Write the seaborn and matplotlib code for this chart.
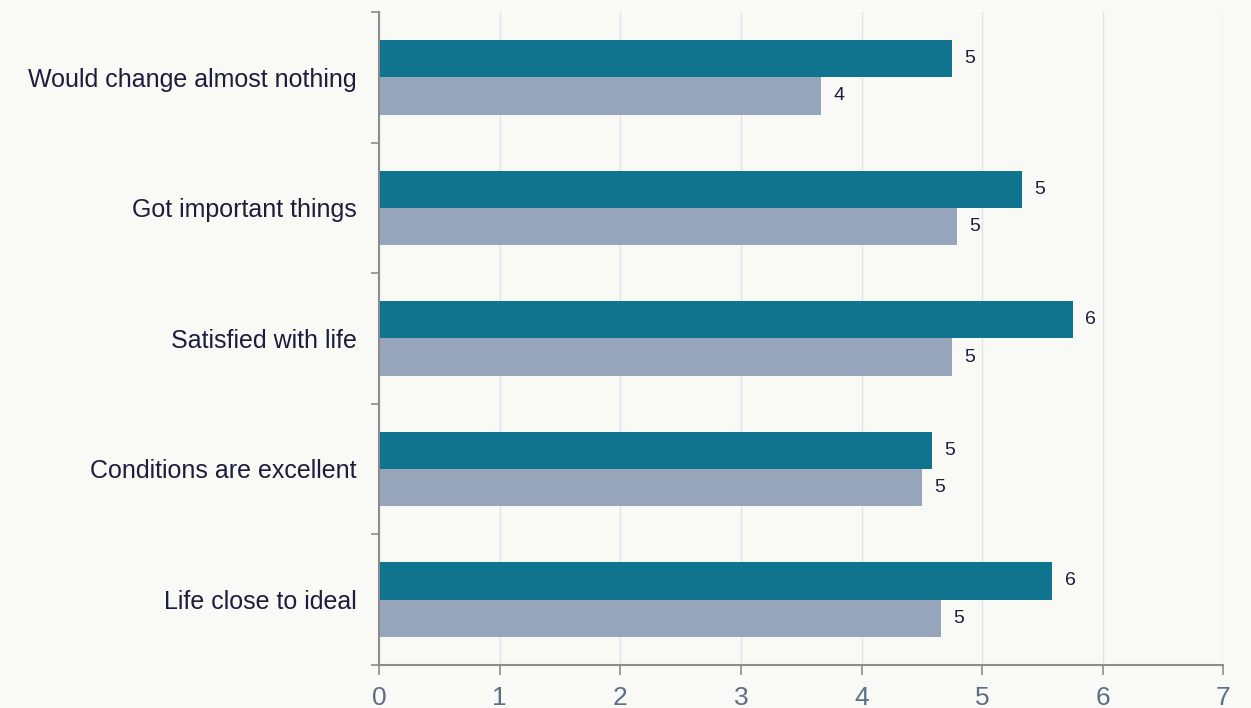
import numpy as np
import pandas as pd
import seaborn as sns
import matplotlib.pyplot as plt
from matplotlib.ticker import FixedLocator

categories = [
    "Would change almost nothing",
    "Got important things",
    "Satisfied with life",
    "Conditions are excellent",
    "Life close to ideal",
]
series_names = ["Series 1", "Series 2"]
series_1 = [4.75, 5.33, 5.75, 4.58, 5.58]
series_2 = [3.66, 4.79, 4.75, 4.50, 4.66]
x_ticks = [0, 1, 2, 3, 4, 5, 6, 7]

colors = ["#11748f", "#96a5ba"]
bg = "#f9f9f5"
axis_grey = "#8c8c8c"

data = pd.DataFrame(
    {
        "category": categories * 2,
        "series": [series_names[0]] * len(categories) + [series_names[1]] * len(categories),
        "value": series_1 + series_2,
    }
)

sns.set_style("white")
plt.rcParams["font.family"] = ["Liberation Sans", "DejaVu Sans"]

fig, ax = plt.subplots(figsize=(12.51, 7.08), dpi=100)
fig.patch.set_facecolor(bg)
ax.set_facecolor(bg)
fig.subplots_adjust(left=0.303, right=0.978, top=0.983, bottom=0.061)

sns.barplot(
    data=data,
    y="category",
    x="value",
    hue="series",
    order=categories,
    hue_order=series_names,
    palette=colors,
    width=0.57,
    orient="h",
    legend=False,
    saturation=1,
    linewidth=0,
    ax=ax,
)

# value labels (rounded half up)
for container in ax.containers:
    vals = [b.get_width() for b in container]
    ax.bar_label(
        container,
        labels=[str(int(v + 0.5)) for v in vals],
        padding=9,
        fontsize=14,
        color="#1f1d3d",
    )

ax.set_xlim(0, 7)
ax.set_ylim(len(categories) - 0.5, -0.5)
ax.xaxis.set_major_locator(FixedLocator(x_ticks))
ax.grid(axis="x", color="#e0e2ec", linewidth=1)
ax.set_axisbelow(True)

ax.set_xlabel("")
ax.set_ylabel("")

# category boundaries as minor ticks on the left spine
ax.yaxis.set_minor_locator(FixedLocator(np.arange(-0.5, len(categories), 1.0)))
ax.tick_params(axis="y", which="major", length=0, pad=16, labelsize=18, labelcolor="#1f1d3d")
ax.tick_params(axis="y", which="minor", length=6, width=1.2, color=axis_grey, direction="out", left=True)
ax.tick_params(axis="x", which="major", length=7, width=1.2, color=axis_grey, pad=8,
               labelsize=19, labelcolor="#5b6e8a", bottom=True)

for side in ["top", "right"]:
    ax.spines[side].set_visible(False)
for side in ["left", "bottom"]:
    ax.spines[side].set_color(axis_grey)
    ax.spines[side].set_linewidth(1.5)

plt.savefig("out.png", dpi=100, facecolor=bg)
